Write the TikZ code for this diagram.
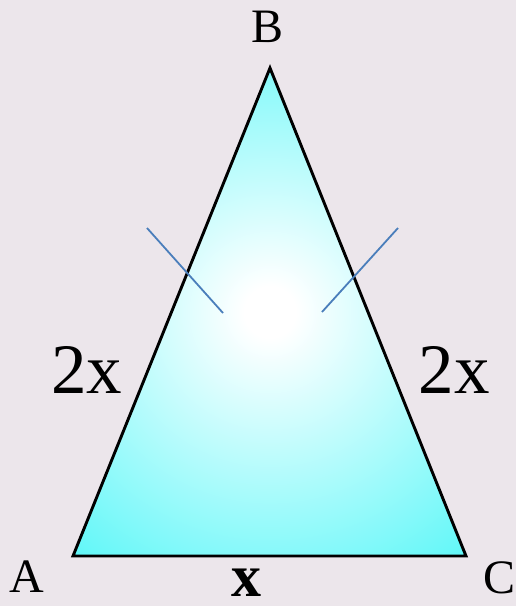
\documentclass[tikz,border=0pt]{standalone}
\usepackage{fontspec}
\setmainfont{Liberation Serif}
\definecolor{bgc}{RGB}{236,230,235}
\definecolor{cyanedge}{RGB}{92,247,248}
\definecolor{tickc}{RGB}{74,126,187}
\pgfdeclareradialshading{trishade}{\pgfpoint{0bp}{0bp}}{color(0bp)=(white); color(2bp)=(white); color(25bp)=(cyanedge); color(50bp)=(cyanedge)}
\begin{document}
\begin{tikzpicture}[x=1pt,y=-1pt,
  lbl/.style={anchor=base,inner sep=0pt,font=\fontsize{48}{48}\selectfont},
  side/.style={anchor=base,inner sep=0pt,font=\fontsize{71}{71}\selectfont},
  tick/.style={draw=tickc,line width=1.8pt}]
\fill[bgc] (0,0) rectangle (516,606);
\useasboundingbox (0,0) rectangle (516,606);
\coordinate (A) at (73,556);
\coordinate (B) at (270,68);
\coordinate (C) at (466,556);
\coordinate (ctr) at (270,312);
\begin{scope}
\clip (A) -- (B) -- (C) -- cycle;
\shade[shading=trishade] (ctr) circle[radius=320];
\end{scope}
\draw[line width=2.9pt,line join=miter] (A) -- (B) -- (C) -- cycle;
\coordinate (t1a) at (147,228);
\coordinate (t1b) at (223,313);
\coordinate (t2a) at (398,228);
\coordinate (t2b) at (322,312);
\draw[tick] (t1a) -- (t1b);
\draw[tick] (t2a) -- (t2b);
\node[lbl] (lB) at (268,42) {B};
\node[lbl] (lA) at (27,592) {A};
\node[lbl] (lC) at (500,593) {C};
\node[side] (s1) at (87,393) {2x};
\node[side] (s2) at (454,393) {2x};
\node[side,font=\fontsize{60}{60}\selectfont\bfseries] (s3) at (246,596) {x};
\end{tikzpicture}
\end{document}
